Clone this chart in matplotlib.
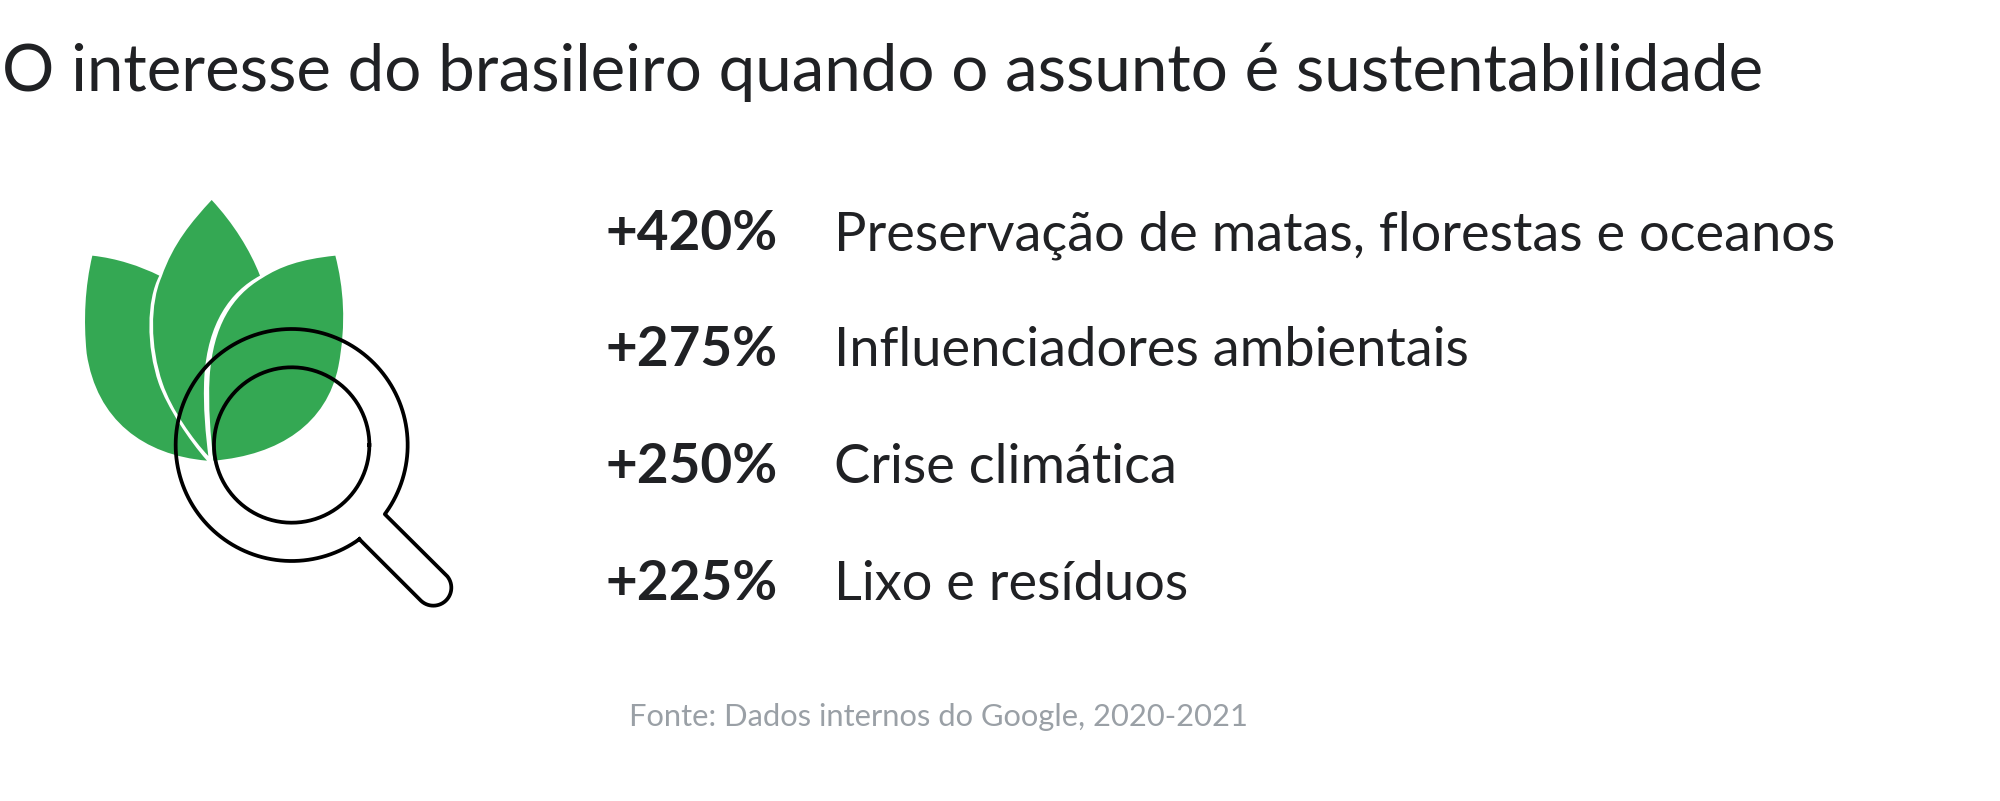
#!/usr/bin/env python3
import numpy as np
import matplotlib
matplotlib.use("Agg")
import matplotlib.pyplot as plt
from matplotlib.patches import PathPatch
from matplotlib.path import Path

TITLE = "O interesse do brasileiro quando o assunto é sustentabilidade"
VALUES = ["+420%", "+275%", "+250%", "+225%"]
TOPICS = [
    "Preservação de matas, florestas e oceanos",
    "Influenciadores ambientais",
    "Crise climática",
    "Lixo e resíduos",
]
SOURCE = "Fonte: Dados internos do Google, 2020-2021"

INK = "#202124"
GREEN = "#34A853"
GREY = "#9AA0A6"
FONT = "Lato"

LEFT_LEAF = [(97, 227), (170, 235), (240, 258), (298, 287),
             (259, 360), (258, 500), (296, 610),
             (321, 680), (386, 780), (441, 842),
             (250, 825), (110, 720), (80, 520),
             (70, 420), (75, 320), (97, 227)]
MID_LEAF = [(455, 60), (520, 130), (570, 210), (600, 287),
            (510, 335), (443, 430), (433, 590),
            (428, 680), (438, 770), (445, 828),
            (400, 780), (335, 690), (308, 610),
            (270, 500), (270, 370), (305, 290),
            (340, 190), (395, 125), (455, 60)]
RIGHT_LEAF = [(826, 227), (720, 238), (660, 260), (607, 294),
              (515, 348), (459, 440), (449, 590),
              (444, 680), (452, 770), (460, 842),
              (660, 825), (800, 730), (835, 560),
              (860, 430), (850, 320), (826, 227)]


def crop_to_px(pts):
    pts = np.asarray(pts, dtype=float)
    return pts / 3 + [60, 180]


def add_leaf(ax, pts):
    verts = crop_to_px(pts)
    codes = [Path.MOVETO] + [Path.CURVE4] * (len(verts) - 1)
    ax.add_patch(PathPatch(Path(verts, codes), fc=GREEN, ec="none"))


def add_magnifier(ax):
    cx, cy = crop_to_px([(695, 795)])[0]
    t = np.radians(np.linspace(0, 360, 300))
    ax.plot(cx + 77.7 * np.cos(t), cy + 77.7 * np.sin(t), color="black", lw=2.7)

    # ring and handle are one outline
    t = np.radians(np.linspace(54.3, 396.6, 300))
    ring = np.column_stack([cx + 116 * np.cos(t), cy + 116 * np.sin(t)])
    ex, ey = crop_to_px([(1120, 1223)])[0]
    t = np.radians(np.linspace(-45, 135, 60))
    cap = np.column_stack([ex + 18 * np.cos(t), ey + 18 * np.sin(t)])
    outline = np.vstack([ring, cap, ring[:1]])
    ax.plot(outline[:, 0], outline[:, 1], color="black", lw=2.7, solid_joinstyle="round")


def main():
    fig = plt.figure(figsize=(20, 8.01), dpi=100)
    ax = fig.add_axes([0, 0, 1, 1])
    ax.set_xlim(0, 2000)
    ax.set_ylim(801, 0)
    ax.axis("off")

    for leaf in (LEFT_LEAF, MID_LEAF, RIGHT_LEAF):
        add_leaf(ax, leaf)
    add_magnifier(ax)

    ax.text(2, 91, TITLE, fontsize=47.05, color=INK, family=FONT, va="baseline", ha="left")

    for i, (val, topic) in enumerate(zip(VALUES, TOPICS)):
        y = 250 + i * 116.5
        ax.text(778, y, val, fontsize=39.5, fontweight="bold", color=INK, family=FONT,
                va="baseline", ha="right")
        ax.text(834, y, topic, fontsize=39, color=INK, family=FONT, va="baseline", ha="left")

    ax.text(629, 726, SOURCE, fontsize=22.2, color=GREY, family=FONT, va="baseline", ha="left")

    fig.savefig("out.png", dpi=100, facecolor="white")


if __name__ == "__main__":
    main()
